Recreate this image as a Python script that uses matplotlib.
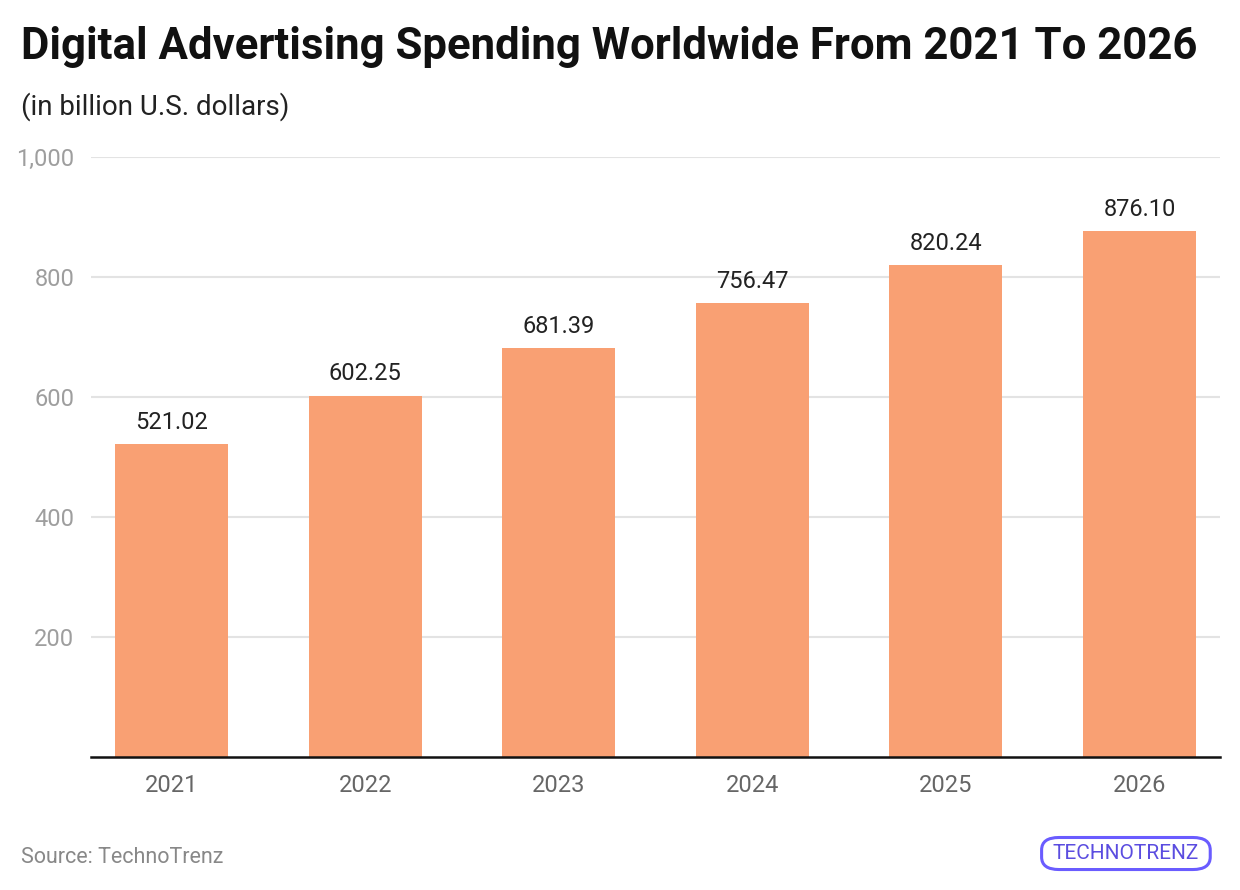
import matplotlib
matplotlib.use("Agg")
import matplotlib.pyplot as plt
from matplotlib.patches import FancyBboxPatch

years = ['2021', '2022', '2023', '2024', '2025', '2026']
spending = [521.02, 602.25, 681.39, 756.47, 820.24, 876.10]
value_labels = ['521.02', '602.25', '681.39', '756.47', '820.24', '876.10']
y_ticks = [200, 400, 600, 800, 1000]
y_tick_labels = ['200', '400', '600', '800', '1,000']

plt.rcParams['font.family'] = ['Roboto', 'DejaVu Sans']

fig = plt.figure(figsize=(12.4, 8.9), dpi=100)
ax = fig.add_axes([0.0734, 0.1494, 0.9105, 0.6742])

x = range(len(years))
ax.bar(x, spending, width=0.584, color='#F9A073', zorder=2)
for i, v in enumerate(spending):
    ax.text(i, v + 17, value_labels[i], ha='center', va='bottom', fontsize=17, color='#222222')

ax.set_xlim(-0.416, 5.416)
ax.set_ylim(0, 1000)
ax.set_yticks(y_ticks)
ax.set_yticklabels(y_tick_labels)
ax.set_xticks(list(x))
ax.set_xticklabels(years)
ax.tick_params(axis='y', length=0, pad=12, labelsize=17, labelcolor='#9e9e9e')
ax.tick_params(axis='x', length=0, pad=12, labelsize=17, labelcolor='#666666')
ax.yaxis.grid(True, color='#e3e3e3', linewidth=1.5, zorder=0)
for s in ['top', 'right', 'left']:
    ax.spines[s].set_visible(False)
ax.spines['bottom'].set_color('#111111')
ax.spines['bottom'].set_linewidth(1.8)

fig.text(0.017, 0.947, 'Digital Advertising Spending Worldwide From 2021 To 2026',
         fontsize=31.5, fontweight='bold', color='#111111', va='center')
fig.text(0.017, 0.880, '(in billion U.S. dollars)', fontsize=20, color='#222222', va='center')
fig.text(0.017, 0.037, 'Source: TechnoTrenz', fontsize=15.5, color='#888888', va='center')

# logo
logo = FancyBboxPatch((0.843, 0.026), 0.130, 0.030, transform=fig.transFigure,
                      boxstyle='round,pad=0.003,rounding_size=0.014',
                      facecolor='white', edgecolor='#6a5cff', linewidth=2.2)
fig.patches.append(logo)
fig.text(0.908, 0.041, 'TECHNOTRENZ', fontsize=15, color='#5b4de0', ha='center', va='center')

fig.savefig('out.png', dpi=100)
